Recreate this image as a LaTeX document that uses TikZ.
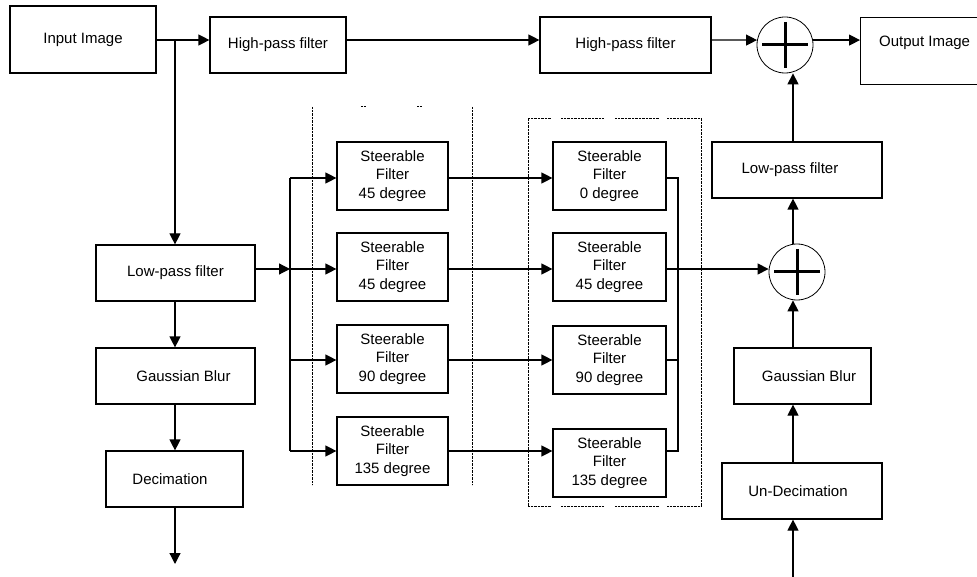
\documentclass[tikz,border=0pt]{standalone}
\usepackage{fontspec}
\setmainfont{Liberation Sans}
\usetikzlibrary{arrows.meta,calc}
\begin{document}
\begin{tikzpicture}[x=1pt,y=-1pt,
  box/.style={draw=black, line width=1.2pt, rectangle, inner sep=0pt, align=center, font=\fontsize{15}{18.5}\selectfont},
  conn/.style={line width=1.2pt},
  arr/.style={conn, -{Triangle[length=11pt,width=11pt]}},
  sumnode/.style={circle, draw, line width=0.8pt, minimum size=56pt, inner sep=0pt},
  plusbar/.style={line width=3pt},
  dotl/.style={line width=1pt, dash pattern=on 0.7pt off 0.7pt},
]
\useasboundingbox (0,0) rectangle (977,577);

% top row
\node[box, minimum width=146pt, minimum height=67pt] (inp) at (83,39.5) {Input Image};
\node[box, minimum width=136pt, minimum height=56pt] (hp1) at (278,45) {High-pass filter};
\node[box, minimum width=171pt, minimum height=56pt] (hp2) at (625.5,45) {High-pass filter};
\node[sumnode] (sum1) at (785,45) {};
\node[box, anchor=north west, minimum width=160pt, text height=28.5pt, text depth=38.5pt] (out) at (860,17) {Output Image\hspace*{32pt}};
\draw[plusbar] ($(sum1)+(-23,0)$) -- ($(sum1)+(23,0)$);
\draw[plusbar] ($(sum1)+(0,-23)$) -- ($(sum1)+(0,23)$);

% left column
\node[box, minimum width=159pt, minimum height=56pt] (lpL) at (175.5,273) {Low-pass filter};
\node[box, minimum width=159pt, minimum height=56pt] (gbL) at (175.5,376) {\hspace*{16pt}Gaussian Blur};
\node[box, minimum width=137pt, minimum height=56pt] (decL) at (174.5,479) {Decimation\hspace*{9pt}};
\coordinate (decOut) at (175,564);
\coordinate (j1) at (175,40);

% steerable column 1
\node[box, minimum width=111pt, minimum height=68pt] (a1) at (392.5,176) {Steerable\\Filter\\45 degree};
\node[box, minimum width=111pt, minimum height=68pt] (a2) at (392.5,267) {Steerable\\Filter\\45 degree};
\node[box, minimum width=111pt, minimum height=68pt] (a3) at (392.5,359) {Steerable\\Filter\\90 degree};
\node[box, minimum width=111pt, minimum height=68pt] (a4) at (392.5,451) {Steerable\\Filter\\135 degree};

% steerable column 2
\node[box, minimum width=113pt, minimum height=68pt] (b1) at (609.5,176) {Steerable\\Filter\\0 degree};
\node[box, minimum width=113pt, minimum height=68pt] (b2) at (609.5,267) {Steerable\\Filter\\45 degree};
\node[box, minimum width=113pt, minimum height=68pt] (b3) at (609.5,360) {Steerable\\Filter\\90 degree};
\node[box, minimum width=113pt, minimum height=68pt] (b4) at (609.5,463) {Steerable\\Filter\\135 degree};

% right column
\node[sumnode] (sum2) at (797,272) {};
\draw[plusbar] ($(sum2)+(-23,0)$) -- ($(sum2)+(23,0)$);
\draw[plusbar] ($(sum2)+(0,-23)$) -- ($(sum2)+(0,23)$);
\node[box, minimum width=170pt, minimum height=56pt] (lpR) at (797,170) {Low-pass filter\hspace*{14pt}};
\node[box, minimum width=137pt, minimum height=56pt] (gbR) at (802.5,376) {\hspace*{13pt}Gaussian Blur};
\node[box, minimum width=160pt, minimum height=56pt] (undec) at (802,491) {Un-Decimation\hspace*{8pt}};
\coordinate (xR) at (793,0);
\coordinate (inR) at (793,577);

% helper coordinates
\coordinate (busL) at (290,269);
\coordinate (busR) at (678,269);
\coordinate (r1) at (0,178);
\coordinate (r2) at (0,269);
\coordinate (r3) at (0,360);
\coordinate (r4) at (0,451);

% dotted groupings
\draw[dotl] (312,107) -- (312,485);
\draw[dotl] (472,107) -- (472,485);
\draw[dotl] (361,107) -- (366,107);
\draw[dotl] (417,107) -- (422,107);
\draw[dotl] (528,119) -- (528,506);
\draw[dotl] (701,119) -- (701,506);
\draw[dotl] (528,119) -- (551,119) (561,119) -- (604,119) (615,119) -- (659,119) (667,119) -- (701,119);
\draw[dotl] (528,506) -- (551,506) (561,506) -- (604,506) (615,506) -- (659,506) (667,506) -- (701,506);

% top connectors
\draw[arr] (inp.east |- j1) -- (hp1.west |- j1);
\draw[arr] (hp1.east |- j1) -- (hp2.west |- j1);
\draw[arr] (hp2.east |- j1) -- (sum1.170);
\draw[arr] (sum1.10) -- (out.west |- sum1.10);

% left column connectors
\draw[arr] (j1) -- (j1 |- lpL.north);
\draw[arr] (j1 |- lpL.south) -- (j1 |- gbL.north);
\draw[arr] (j1 |- gbL.south) -- (j1 |- decL.north);
\draw[arr] (j1 |- decL.south) -- (decOut);

% fan out
\draw[arr] (lpL.east |- busL) -- (busL);
\draw[conn] (busL |- r1) -- (busL |- r4);
\draw[arr] (busL |- r1) -- (a1.west |- r1);
\draw[arr] (busL |- r2) -- (a2.west |- r2);
\draw[arr] (busL |- r3) -- (a3.west |- r3);
\draw[arr] (busL |- r4) -- (a4.west |- r4);
\draw[arr] (a1.east |- r1) -- (b1.west |- r1);
\draw[arr] (a2.east |- r2) -- (b2.west |- r2);
\draw[arr] (a3.east |- r3) -- (b3.west |- r3);
\draw[arr] (a4.east |- r4) -- (b4.west |- r4);

% fan in
\draw[conn] (b1.east |- r1) -- (busR |- r1) -- (busR |- r4) -- (b4.east |- r4);
\draw[conn] (b2.east |- r2) -- (busR);
\draw[conn] (b3.east |- r3) -- (busR |- r3);
\draw[arr] (busR) -- (sum2.west |- busR);

% right column connectors
\draw[arr] (inR) -- (xR |- undec.south);
\draw[arr] (xR |- undec.north) -- (xR |- gbR.south);
\draw[arr] (xR |- gbR.north) -- (xR |- sum2.south);
\draw[arr] (xR |- sum2.north) -- (xR |- lpR.south);
\draw[arr] (xR |- lpR.north) -- (xR |- sum1.south);
\end{tikzpicture}
\end{document}
